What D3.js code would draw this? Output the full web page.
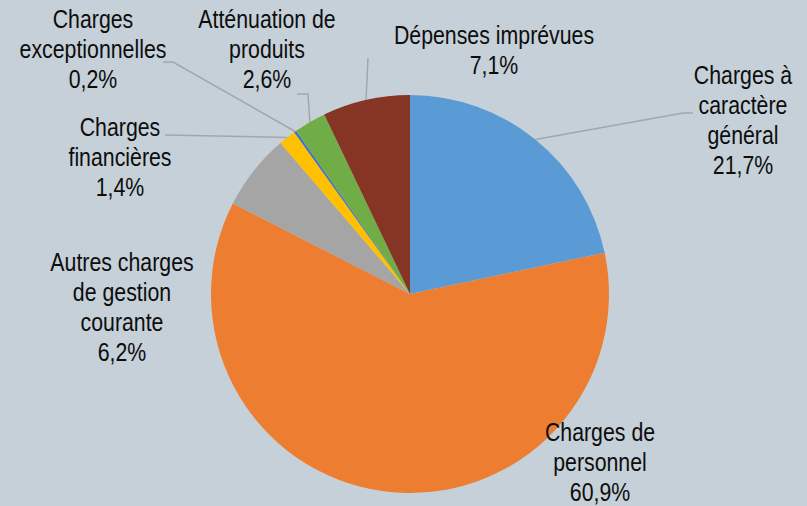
<!DOCTYPE html>
<html><head><meta charset="utf-8">
<script src="https://cdn.jsdelivr.net/npm/d3@7/dist/d3.min.js"></script>
<style>
html,body{margin:0;padding:0;background:#c6d0d8;}
svg{display:block;}
text{font-family:"Liberation Sans",Arial,sans-serif;font-size:26px;fill:#0d0d0d;}
</style></head>
<body>
<svg id="chart" width="807" height="506"></svg>
<script>
const categories = ["Charges à caractère général","Charges de personnel","Autres charges de gestion courante","Charges financières","Charges exceptionnelles","Atténuation de produits","Dépenses imprévues"];
const values = [21.7, 60.9, 6.2, 1.4, 0.2, 2.6, 7.1];
const valueLabels = ["21,7%","60,9%","6,2%","1,4%","0,2%","2,6%","7,1%"];
const labelLines = [["Charges à","caractère","général"],["Charges de","personnel"],["Autres charges","de gestion","courante"],["Charges","financières"],["Charges","exceptionnelles"],["Atténuation de","produits"],["Dépenses imprévues"]];
const colors = ["#5b9bd5","#ed7d31","#a5a5a5","#ffc000","#4472c4","#70ad47","#863524"];

// layout (label placement)
const layout = [
  {x:743, y:84, lead:[[693,113],[683,113]]},
  {x:600, y:441, lead:null},
  {x:122, y:271, lead:null},
  {x:120, y:136, lead:[[165,135]]},
  {x:93,  y:28,  lead:[[163,62],[173,62]]},
  {x:267, y:28,  lead:[[297,94],[308,94]]},
  {x:494, y:44,  lead:[[368,58]]}
];
const cx = 410, cy = 294, R = 199, lineH = 30, squeeze = 0.82;

const svg = d3.select("#chart");
const pie = d3.pie().sort(null).value(d=>d)(values);
const arc = d3.arc().innerRadius(0).outerRadius(R);
const g = svg.append("g").attr("transform",`translate(${cx},${cy})`);
g.selectAll("path").data(pie).join("path")
  .attr("d",arc).attr("fill",(d,i)=>colors[i]);

// leader lines
pie.forEach((d,i)=>{
  const L = layout[i];
  if(!L.lead) return;
  const a = (d.startAngle+d.endAngle)/2;
  const px = cx + R*Math.sin(a), py = cy - R*Math.cos(a);
  const pts = L.lead.concat([[px,py]]);
  svg.append("path").attr("d",d3.line()(pts))
    .attr("fill","none").attr("stroke","#a6a6a6").attr("stroke-width",1.5);
});

// labels
layout.forEach((L,i)=>{
  const lines = labelLines[i].concat([valueLabels[i]]);
  const t = svg.append("text").attr("text-anchor","middle")
    .attr("transform",`translate(${L.x},0) scale(${squeeze},1)`);
  lines.forEach((s,k)=>{
    t.append("tspan").attr("x",0).attr("y",L.y + k*lineH).text(s);
  });
});
</script>
</body></html>
